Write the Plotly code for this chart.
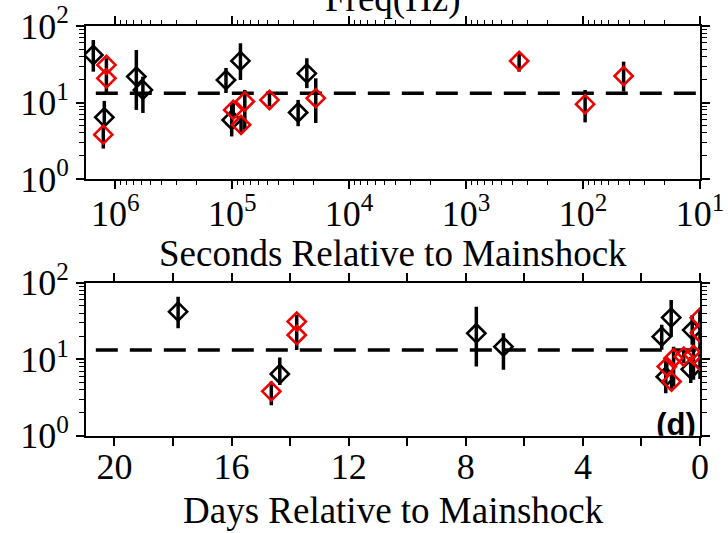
import plotly.graph_objects as go

# Event timing (seconds before mainshock) and corner frequency estimates (Hz)
black_sec = [1.54e6, 1.24e6, 6.6e5, 5.8e5, 1.13e5, 8.5e4, 1.01e5, 2.73e4, 2.30e4]
black_freq = [41.8, 6.4, 21.8, 14.6, 19.7, 35.0, 5.9, 7.4, 24.0]
black_lo = [25.3, 4.6, 8.0, 7.3, 13.3, 19.7, 3.6, 4.9, 15.4]
black_hi = [65.6, 10.5, 48.6, 21.8, 28.3, 59.5, 9.9, 10.8, 37.9]

red_sec = [1.19e6, 1.19e6, 1.265e6, 9.8e4, 7.8e4, 8.4e4, 4.8e4, 1.93e4, 352, 96, 45]
red_freq = [31.0, 20.7, 3.8, 8.0, 10.3, 5.1, 10.8, 11.4, 34.9, 9.5, 22.2]
red_lo = [24.0, 13.2, 2.5, 6.5, 4.4, 4.0, 8.9, 5.4, 25.3, 5.5, 13.9]
red_hi = [37.9, 27.0, 5.1, 10.0, 14.6, 6.5, 13.9, 20.7, 44.0, 14.6, 34.2]

mean_freq = 13.2
sec_per_day = 86400.0

log_tick_exps = [0, 1, 2]
sec_tick_exps = [6, 5, 4, 3, 2, 1]
day_ticks = [20, 16, 12, 8, 4, 0]

SERIF = "Liberation Serif"
RED = "#f00000"
W, H = 728, 533


def px_x(p):
    return p / W


def px_y(p):
    return 1 - p / H


def err(freq, lo, hi):
    return dict(type="data", symmetric=False,
                array=[h - f for f, h in zip(freq, hi)],
                arrayminus=[f - l for f, l in zip(freq, lo)],
                color="black", thickness=3.5, width=0)


fig = go.Figure()

for xa, ya, conv in [("x", "y", lambda s: s), ("x2", "y2", lambda s: s / sec_per_day)]:
    fig.add_trace(go.Scatter(
        x=[conv(s) for s in black_sec], y=black_freq, mode="markers",
        marker=dict(symbol="diamond-open", size=14, color="black",
                    line=dict(width=2.6, color="black")),
        error_y=err(black_freq, black_lo, black_hi),
        xaxis=xa, yaxis=ya, showlegend=False))
    fig.add_trace(go.Scatter(
        x=[conv(s) for s in red_sec], y=red_freq, mode="markers",
        marker=dict(symbol="diamond-open", size=14, color=RED,
                    line=dict(width=2.6, color=RED)),
        error_y=err(red_freq, red_lo, red_hi),
        xaxis=xa, yaxis=ya, showlegend=False))

# Panel tag, clipped to the lower plot area
fig.add_trace(go.Scatter(
    x=[0.14], y=[1.27], mode="text", text=["(d)"], textposition="middle left",
    textfont=dict(family="Liberation Sans", size=31, color="black", weight="bold"),
    cliponaxis=True, xaxis="x2", yaxis="y2", showlegend=False, hoverinfo="skip"))

dom_x = [px_x(86), px_x(700)]
top_dom = [px_y(179), px_y(26)]
bot_dom = [px_y(435.7), px_y(282.7)]

minor_log = [m * 10 ** e for e in [0, 1] for m in range(2, 10)]
minor_sec = [m * 10 ** e for e in range(1, 7) for m in range(2, 10)]

axis_common = dict(showline=True, linecolor="black", linewidth=2, mirror="allticks",
                   ticks="outside", tickcolor="black", tickwidth=1.5, ticklen=8,
                   showgrid=False, zeroline=False, automargin=False,
                   ticklabeloverflow="allow",
                   tickfont=dict(family=SERIF, size=36, color="black"))

fig.update_layout(
    width=W, height=H, margin=dict(l=0, r=0, t=0, b=0, autoexpand=False),
    paper_bgcolor="white", plot_bgcolor="white",
    xaxis=dict(axis_common, domain=dom_x, anchor="y", type="log",
               range=[6.25, 1], tickmode="array", ticklabelstandoff=-6,
               tickvals=[10 ** e for e in sec_tick_exps],
               ticktext=[f"10<sup>{e}</sup>" for e in sec_tick_exps],
               minor=dict(tickmode="array", tickvals=minor_sec, ticks="outside",
                          ticklen=4, tickcolor="black", tickwidth=1, showgrid=False)),
    yaxis=dict(axis_common, domain=top_dom, anchor="x", type="log",
               range=[0, 2], tickmode="array",
               tickvals=[10 ** e for e in log_tick_exps],
               ticktext=[f"10<sup>{e}</sup>" for e in log_tick_exps],
               minor=dict(tickmode="array", tickvals=minor_log, ticks="outside",
                          ticklen=5, tickcolor="black", tickwidth=1, showgrid=False)),
    xaxis2=dict(axis_common, domain=dom_x, anchor="y2", range=[20.97, 0],
                tickmode="array", tickvals=day_ticks, ticklabelstandoff=-10,
                ticktext=[str(d) for d in day_ticks],
                minor=dict(dtick=2, tick0=0, ticks="outside", ticklen=8,
                           tickcolor="black", tickwidth=1.5, showgrid=False)),
    yaxis2=dict(axis_common, domain=bot_dom, anchor="x2", type="log",
                range=[0, 2], tickmode="array",
                tickvals=[10 ** e for e in log_tick_exps],
                ticktext=[f"10<sup>{e}</sup>" for e in log_tick_exps],
                minor=dict(tickmode="array", tickvals=minor_log, ticks="outside",
                           ticklen=5, tickcolor="black", tickwidth=1, showgrid=False)),
)

# Mean frequency reference line in each panel
for xr, yr in [("x domain", "y"), ("x2 domain", "y2")]:
    fig.add_shape(type="line", xref=xr, yref=yr, x0=0.016, x1=1,
                  y0=mean_freq, y1=mean_freq,
                  line=dict(color="black", width=3.5, dash="22px,12px"), layer="below")

title_font = dict(family=SERIF, size=37, color="black")
fig.add_annotation(text="Freq(Hz)", xref="paper", yref="paper",
                   x=px_x(393), y=px_y(22), xanchor="center", yanchor="bottom",
                   showarrow=False, font=title_font)
fig.add_annotation(text="Seconds Relative to Mainshock", xref="paper", yref="paper",
                   x=px_x(393), y=px_y(253), xanchor="center", yanchor="middle",
                   showarrow=False, font=title_font)
fig.add_annotation(text="Days Relative to Mainshock", xref="paper", yref="paper",
                   x=px_x(393), y=px_y(510), xanchor="center", yanchor="middle",
                   showarrow=False, font=title_font)

fig.write_html("out.html")
